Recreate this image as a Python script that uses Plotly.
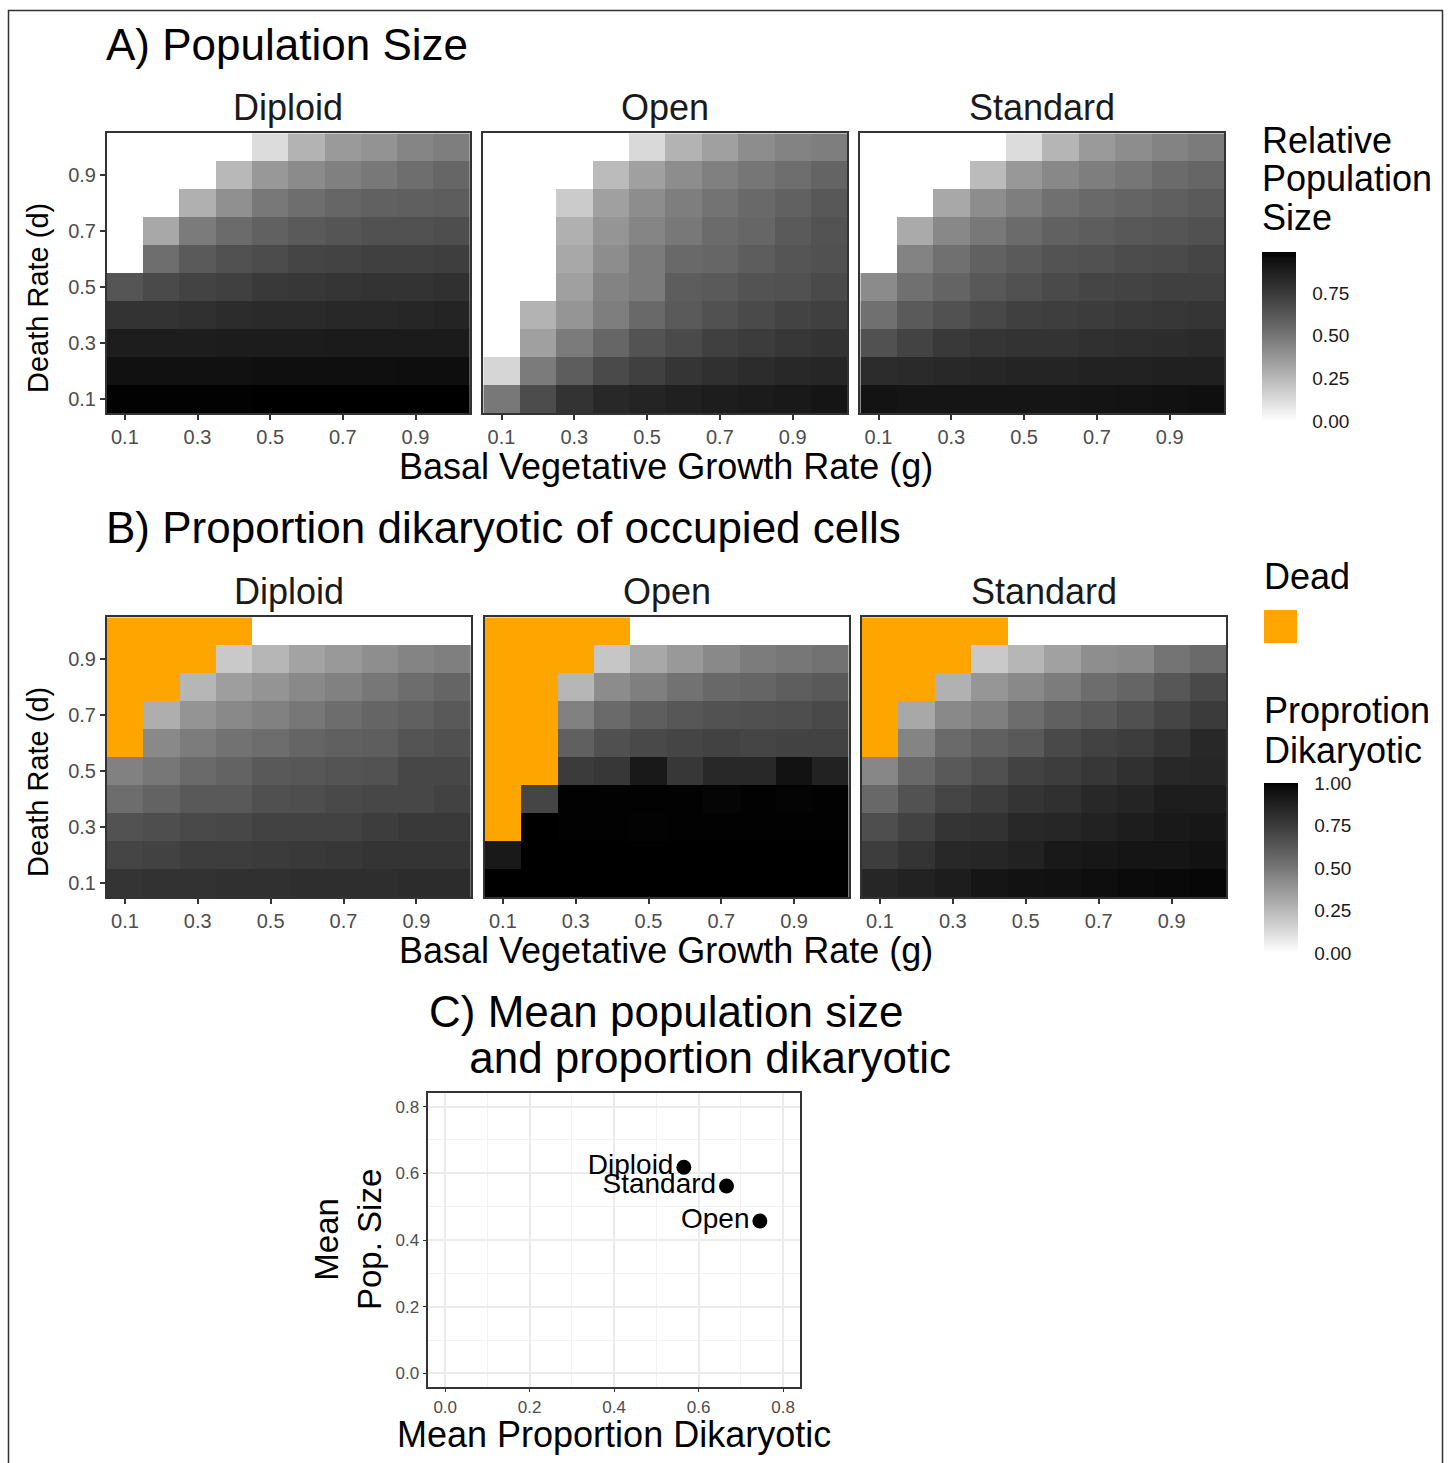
import plotly.graph_objects as go

# ---------------- data ----------------
G_VALUES = [0.1, 0.2, 0.3, 0.4, 0.5, 0.6, 0.7, 0.8, 0.9, 1.0]          # basal vegetative growth rate
D_VALUES = [1.0, 0.9, 0.8, 0.7, 0.6, 0.5, 0.4, 0.3, 0.2, 0.1]          # death rate (rows top -> bottom)
TICK_VALUES = [0.1, 0.3, 0.5, 0.7, 0.9]
TICK_LABELS = ["0.1", "0.3", "0.5", "0.7", "0.9"]
MODELS = ["Diploid", "Open", "Standard"]

POP_DIPLOID = [
    [0, 0, 0, 0, .12, .27, .36, .39, .44, .47],
    [0, 0, 0, .25, .37, .42, .46, .49, .53, .56],
    [0, 0, .28, .40, .49, .53, .56, .58, .59, .60],
    [0, .31, .48, .54, .58, .61, .63, .65, .65, .66],
    [0, .53, .61, .65, .67, .70, .71, .72, .72, .73],
    [.63, .68, .71, .72, .75, .76, .77, .78, .78, .79],
    [.78, .78, .79, .81, .82, .82, .83, .83, .84, .85],
    [.88, .88, .88, .885, .885, .885, .89, .89, .89, .89],
    [.94, .94, .94, .94, .945, .945, .945, .945, .95, .95],
    [.985, .985, .985, .985, .99, .99, .99, .99, .99, .99],
]
POP_OPEN = [
    [0, 0, 0, 0, .13, .27, .34, .41, .45, .47],
    [0, 0, 0, .24, .34, .41, .46, .50, .53, .57],
    [0, 0, .18, .34, .41, .47, .51, .55, .58, .62],
    [0, 0, .28, .38, .44, .49, .54, .56, .61, .64],
    [0, 0, .31, .41, .48, .55, .56, .60, .63, .65],
    [0, 0, .34, .45, .48, .60, .61, .64, .65, .68],
    [0, .27, .38, .47, .55, .61, .65, .68, .71, .72],
    [0, .34, .48, .56, .64, .68, .72, .74, .76, .78],
    [.14, .48, .60, .68, .72, .77, .79, .81, .83, .84],
    [.49, .67, .78, .83, .85, .87, .88, .89, .90, .92],
]
POP_STANDARD = [
    [0, 0, 0, 0, .12, .26, .36, .41, .45, .48],
    [0, 0, 0, .24, .37, .43, .47, .50, .54, .56],
    [0, 0, .31, .41, .47, .52, .55, .57, .59, .61],
    [0, .30, .43, .49, .54, .58, .60, .62, .63, .65],
    [0, .45, .52, .58, .61, .64, .65, .67, .68, .70],
    [.42, .52, .57, .62, .65, .68, .70, .71, .72, .72],
    [.52, .61, .65, .69, .72, .73, .74, .75, .76, .77],
    [.65, .71, .75, .77, .78, .78, .79, .80, .81, .82],
    [.81, .82, .83, .84, .85, .85, .86, .86, .87, .87],
    [.93, .92, .92, .92, .92, .92, .925, .93, .94, .945],
]

N = None  # dead (no occupied cells)
DIK_DIPLOID = [
    [N, N, N, N, 0, 0, 0, 0, 0, 0],
    [N, N, N, .19, .26, .33, .37, .41, .45, .47],
    [N, N, .26, .35, .39, .43, .46, .50, .54, .57],
    [N, .29, .39, .43, .46, .50, .54, .57, .59, .62],
    [N, .43, .48, .52, .54, .57, .59, .60, .64, .66],
    [.46, .50, .55, .58, .62, .63, .64, .65, .70, .70],
    [.54, .58, .62, .62, .66, .67, .69, .70, .70, .72],
    [.65, .67, .69, .70, .72, .72, .72, .74, .76, .76],
    [.71, .72, .74, .74, .75, .76, .77, .78, .78, .78],
    [.78, .79, .79, .80, .80, .81, .81, .81, .82, .82],
]
DIK_OPEN = [
    [N, N, N, N, 0, 0, 0, 0, 0, 0],
    [N, N, N, .20, .31, .37, .43, .48, .50, .52],
    [N, N, .26, .42, .47, .52, .56, .57, .60, .62],
    [N, N, .46, .55, .60, .63, .65, .66, .67, .69],
    [N, N, .59, .66, .69, .71, .72, .71, .72, .72],
    [N, N, .75, .77, .91, .77, .84, .84, .945, .87],
    [N, .71, .995, .995, .995, .995, .985, .995, .988, .995],
    [N, 1.0, .995, .995, .99, .995, .995, .995, .995, .995],
    [.91, 1.0, 1.0, 1.0, 1.0, 1.0, 1.0, 1.0, 1.0, 1.0],
    [1.0, 1.0, 1.0, 1.0, 1.0, 1.0, 1.0, 1.0, 1.0, 1.0],
]
DIK_STANDARD = [
    [N, N, N, N, 0, 0, 0, 0, 0, 0],
    [N, N, N, .19, .26, .34, .41, .43, .51, .55],
    [N, N, .28, .38, .43, .48, .54, .57, .63, .69],
    [N, .31, .43, .47, .54, .59, .62, .66, .71, .75],
    [N, .45, .55, .59, .62, .69, .72, .74, .78, .84],
    [.44, .56, .62, .66, .72, .74, .77, .80, .84, .85],
    [.56, .65, .71, .74, .78, .80, .84, .86, .89, .89],
    [.67, .72, .78, .79, .84, .85, .87, .89, .91, .92],
    [.74, .78, .84, .85, .87, .91, .92, .93, .93, .945],
    [.85, .87, .89, .93, .945, .95, .96, .967, .975, .98],
]

MEAN_DIK = [0.565, 0.745, 0.666]      # Diploid, Open, Standard
MEAN_POP = [0.618, 0.457, 0.562]

POP_TICKS = [0, 0.25, 0.5, 0.75]
DIK_TICKS = [0, 0.25, 0.5, 0.75, 1.0]
SCATTER_TICKS = [0, 0.2, 0.4, 0.6, 0.8]

# ---------------- styling ----------------
W, H = 1448, 1463
FONT = "Liberation Sans, Arial, sans-serif"
TICK_COLOR = "#4d4d4d"
LINE_COLOR = "#333333"
ORANGE = "#FFA500"


def fx(px):
    return px / W


def fy(py):
    return 1 - py / H


def lab_gray(t):
    # white -> black interpolated in CIELAB lightness (like ggplot's gradient)
    L = 100 * (1 - t)
    f = (L + 16) / 116
    Y = f ** 3 if f ** 3 > 0.008856 else L / 903.3
    c = 1.055 * Y ** (1 / 2.4) - 0.055 if Y > 0.0031308 else 12.92 * Y
    g = max(0, min(255, round(255 * c)))
    return f"rgb({g},{g},{g})"


GRAY_SCALE = [[i / 20, lab_gray(i / 20)] for i in range(21)]

fig = go.Figure()

A_XDOM = [(106.7, 470.0), (483.3, 847.3), (860.3, 1224.3)]
A_YDOM = (133.3, 413.3)
B_XDOM = [(106.7, 471.0), (484.7, 848.7), (861.7, 1226.3)]
B_YDOM = (617.3, 897.3)

pop_sets = [POP_DIPLOID, POP_OPEN, POP_STANDARD]
dik_sets = [DIK_DIPLOID, DIK_OPEN, DIK_STANDARD]

layout_axes = {}
annotations = []


def axis_names(k):
    return ("x" if k == 1 else f"x{k}", "y" if k == 1 else f"y{k}",
            "xaxis" if k == 1 else f"xaxis{k}", "yaxis" if k == 1 else f"yaxis{k}")


def heat_axes(k, xdom, ydom, show_y):
    xr, yr, xk, yk = axis_names(k)
    common = dict(range=[0.05, 1.05], tickvals=TICK_VALUES, ticktext=TICK_LABELS,
                  ticks="outside", ticklen=5, tickwidth=1.5, tickcolor=LINE_COLOR,
                  showline=True, linecolor=LINE_COLOR, linewidth=1.5, mirror=True,
                  showgrid=False, zeroline=False,
                  tickfont=dict(family=FONT, size=20, color=TICK_COLOR))
    layout_axes[xk] = dict(common, domain=[fx(xdom[0]), fx(xdom[1])], anchor=yr)
    layout_axes[yk] = dict(common, domain=[fy(ydom[1]), fy(ydom[0])], anchor=xr,
                           showticklabels=show_y, ticks="outside" if show_y else "")


def txt(text, x, y, size, xanchor="left", angle=0, color="black"):
    annotations.append(dict(text=text, x=fx(x), y=fy(y), xref="paper", yref="paper",
                            xanchor=xanchor, yanchor="middle",
                            showarrow=False, textangle=angle,
                            font=dict(family=FONT, size=size, color=color)))


pop_max = max(max(r) for z in pop_sets for r in z)

k = 1
for i, (name, z) in enumerate(zip(MODELS, pop_sets)):
    xr, yr, _, _ = axis_names(k)
    fig.add_trace(go.Heatmap(x=G_VALUES, y=D_VALUES, z=z, coloraxis="coloraxis",
                             xaxis=xr, yaxis=yr, name=name))
    heat_axes(k, A_XDOM[i], A_YDOM, i == 0)
    txt(name, (A_XDOM[i][0] + A_XDOM[i][1]) / 2, 107, 36, xanchor="center", color="#1a1a1a")
    k += 1

for i, (name, z) in enumerate(zip(MODELS, dik_sets)):
    xr, yr, _, _ = axis_names(k)
    dead = [[1 if v is None else None for v in row] for row in z]
    fig.add_trace(go.Heatmap(x=G_VALUES, y=D_VALUES, z=dead, showscale=False,
                             colorscale=[[0, ORANGE], [1, ORANGE]],
                             xaxis=xr, yaxis=yr, name="Dead", hoverinfo="skip"))
    fig.add_trace(go.Heatmap(x=G_VALUES, y=D_VALUES, z=z, coloraxis="coloraxis2",
                             xaxis=xr, yaxis=yr, name=name))
    heat_axes(k, B_XDOM[i], B_YDOM, i == 0)
    txt(name, (B_XDOM[i][0] + B_XDOM[i][1]) / 2, 591, 36, xanchor="center", color="#1a1a1a")
    k += 1

# scatter panel C
xr, yr, xk, yk = axis_names(7)
fig.add_trace(go.Scatter(x=MEAN_DIK, y=MEAN_POP, mode="markers+text", text=MODELS,
                         textposition="middle left",
                         textfont=dict(family=FONT, size=28, color="black"),
                         marker=dict(size=15, color="black"),
                         xaxis=xr, yaxis=yr, showlegend=False))
sc_common = dict(range=[-0.04, 0.84], tickvals=SCATTER_TICKS,
                 ticktext=["0.0", "0.2", "0.4", "0.6", "0.8"],
                 ticks="outside", ticklen=4, tickwidth=1.2, tickcolor=LINE_COLOR,
                 showline=True, linecolor=LINE_COLOR, linewidth=1.5, mirror=True,
                 showgrid=True, gridcolor="#EBEBEB", gridwidth=1.5, zeroline=False,
                 minor=dict(dtick=0.1, tick0=0.1, showgrid=True, gridcolor="#F2F2F2", gridwidth=1),
                 tickfont=dict(family=FONT, size=17, color=TICK_COLOR))
layout_axes[xk] = dict(sc_common, domain=[fx(428.3), fx(800)], anchor=yr)
layout_axes[yk] = dict(sc_common, domain=[fy(1386.7), fy(1093.3)], anchor=xr)

# ---------------- text ----------------
txt("A) Population Size", 104, 44, 44)
txt("B) Proportion dikaryotic of occupied cells", 104, 527, 44)
txt("C) Mean population size", 427, 1011, 44)
txt(" and proportion dikaryotic", 455, 1057, 44)

for yc in (298, 782):
    txt("Death Rate (d)", 38, yc, 29, xanchor="center", angle=-90)
for yc in (466, 950):
    txt("Basal Vegetative Growth Rate (g)", 666, yc, 36, xanchor="center")

txt("Relative", 1260, 140, 36)
txt("Population", 1260, 179, 36)
txt("Size", 1260, 217, 36)
txt("Dead", 1262, 576, 36)
txt("Proprotion", 1262, 710, 36)
txt("Dikaryotic", 1262, 750, 36)

txt("Mean<br>Pop. Size", 348, 1240, 33, xanchor="center", angle=-90)
txt("Mean Proportion Dikaryotic", 614, 1434, 36, xanchor="center")

shapes = [
    dict(type="rect", xref="paper", yref="paper", x0=fx(1264), x1=fx(1297), y0=fy(643), y1=fy(610),
         fillcolor=ORANGE, line=dict(width=0)),
    dict(type="rect", xref="paper", yref="paper", x0=fx(8.5), x1=fx(1442.5), y0=fy(1480), y1=fy(10.5),
         fillcolor="rgba(0,0,0,0)", line=dict(color=LINE_COLOR, width=1.5)),
]


def cbar(x, ybottom, length, ticks, labels):
    return dict(x=fx(x), xanchor="left", y=fy(ybottom), yanchor="bottom",
                len=length, lenmode="pixels", thickness=34, thicknessmode="pixels",
                xpad=0, ypad=0, outlinewidth=0, tickvals=ticks, ticktext=labels,
                ticks="outside", ticklen=13, tickcolor="rgba(0,0,0,0)",
                tickfont=dict(family=FONT, size=19, color="#1a1a1a"))


fig.update_layout(
    width=W, height=H, margin=dict(l=0, r=0, t=0, b=0, autoexpand=False),
    paper_bgcolor="white", plot_bgcolor="white",
    font=dict(family=FONT, color="black"),
    showlegend=False,
    coloraxis=dict(colorscale=GRAY_SCALE, cmin=0, cmax=pop_max,
                   colorbar=cbar(1262, 421, 169, POP_TICKS, ["0.00", "0.25", "0.50", "0.75"])),
    coloraxis2=dict(colorscale=GRAY_SCALE, cmin=0, cmax=1,
                    colorbar=cbar(1264, 953, 170, DIK_TICKS, ["0.00", "0.25", "0.50", "0.75", "1.00"])),
    annotations=annotations,
    shapes=shapes,
    **layout_axes,
)

fig.write_html("out.html", config={"displayModeBar": False},
               post_script="document.body.style.margin='0';document.body.style.overflow='hidden';")
